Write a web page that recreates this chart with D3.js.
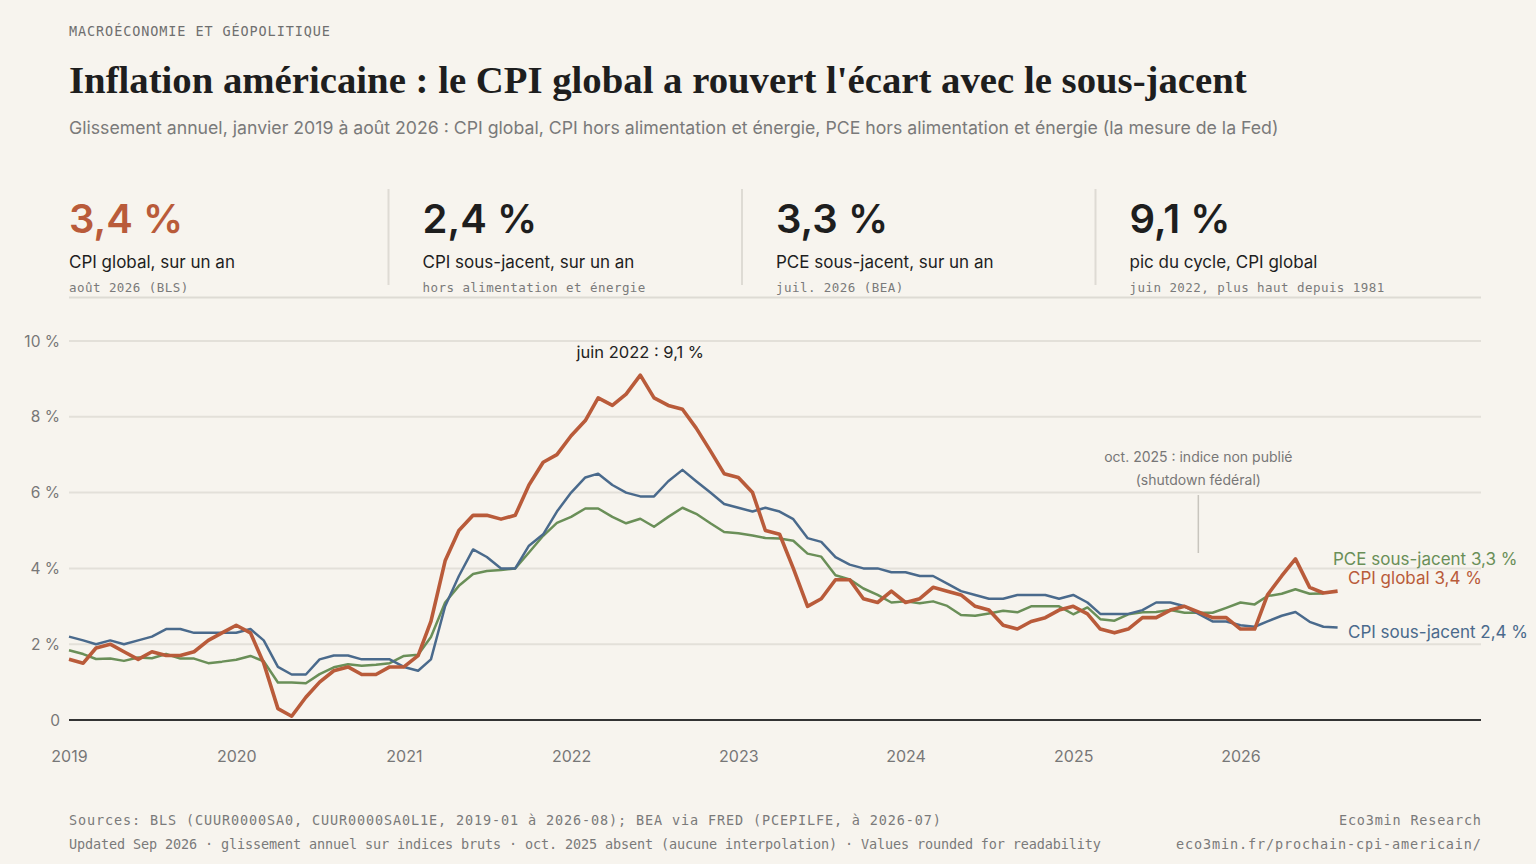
<!DOCTYPE html>
<html><head><meta charset="utf-8">
<script src="https://cdn.jsdelivr.net/npm/d3@7/dist/d3.min.js"></script>
<style>
html,body{margin:0;padding:0;background:#f7f4ee;}
svg{display:block;}
</style></head>
<body>
<svg id="c" width="1536" height="864"></svg>
<script>
const startYear = 2019;
const cpiHeadline = [
 1.6,1.5,1.9,2.0,1.8,1.6,1.8,1.7,1.7,1.8,2.1,2.3,
 2.5,2.3,1.5,0.3,0.1,0.6,1.0,1.3,1.4,1.2,1.2,1.4,
 1.4,1.7,2.6,4.2,5.0,5.4,5.4,5.3,5.4,6.2,6.8,7.0,
 7.5,7.9,8.5,8.3,8.6,9.1,8.5,8.3,8.2,7.7,7.1,6.5,
 6.4,6.0,5.0,4.9,4.0,3.0,3.2,3.7,3.7,3.2,3.1,3.4,
 3.1,3.2,3.5,3.4,3.3,3.0,2.9,2.5,2.4,2.6,2.7,2.9,
 3.0,2.8,2.4,2.3,2.4,2.7,2.7,2.9,3.0,null,2.7,2.7,
 2.4,2.4,3.3,3.8,4.25,3.5,3.35,3.4];
const cpiCore = [
 2.2,2.1,2.0,2.1,2.0,2.1,2.2,2.4,2.4,2.3,2.3,2.3,
 2.3,2.4,2.1,1.4,1.2,1.2,1.6,1.7,1.7,1.6,1.6,1.6,
 1.4,1.3,1.6,3.0,3.8,4.5,4.3,4.0,4.0,4.6,4.9,5.5,
 6.0,6.4,6.5,6.2,6.0,5.9,5.9,6.3,6.6,6.3,6.0,5.7,
 5.6,5.5,5.6,5.5,5.3,4.8,4.7,4.3,4.1,4.0,4.0,3.9,
 3.9,3.8,3.8,3.6,3.4,3.3,3.2,3.2,3.3,3.3,3.3,3.2,
 3.3,3.1,2.8,2.8,2.8,2.9,3.1,3.1,3.0,null,2.6,2.6,
 2.5,2.46,2.6,2.75,2.85,2.59,2.46,2.44];
const pceCore = [
 1.84,1.74,1.61,1.62,1.56,1.65,1.63,1.74,1.62,1.62,1.5,1.54,
 1.59,1.69,1.55,0.99,0.99,0.97,1.21,1.39,1.47,1.43,1.46,1.5,
 1.69,1.72,2.19,3.1,3.54,3.85,3.93,3.96,4.0,4.42,4.86,5.2,
 5.36,5.58,5.58,5.36,5.19,5.31,5.1,5.36,5.6,5.44,5.19,4.96,
 4.93,4.87,4.8,4.79,4.73,4.39,4.31,3.82,3.71,3.47,3.3,3.1,
 3.13,3.08,3.13,3.01,2.77,2.75,2.81,2.88,2.84,3.0,3.0,3.0,
 2.79,2.97,2.66,2.62,2.79,2.84,2.85,2.9,2.83,2.83,2.83,2.96,
 3.1,3.05,3.27,3.33,3.45,3.33,3.34];
const yTicks = [0,2,4,6,8,10];
const yTickLabels = ["0","2 %","4 %","6 %","8 %","10 %"];
const xYears = [2019,2020,2021,2022,2023,2024,2025,2026];
const kpiValues = ["3,4 %","2,4 %","3,3 %","9,1 %"];
const kpiLabels = ["CPI global, sur un an","CPI sous-jacent, sur un an","PCE sous-jacent, sur un an","pic du cycle, CPI global"];
const kpiNotes = ["août 2026 (BLS)","hors alimentation et énergie","juil. 2026 (BEA)","juin 2022, plus haut depuis 1981"];
const endLabels = ["PCE sous-jacent 3,3 %","CPI global 3,4 %","CPI sous-jacent 2,4 %"];

const C = {cpi:"#b95b3a", core:"#4a6a8c", pce:"#6a8f58"};
const sans = "Inter, 'Noto Sans', sans-serif";
const mono = "'DejaVu Sans Mono', 'Liberation Mono', monospace";
const svg = d3.select("#c");

svg.append("text").attr("x",69).attr("y",36).text("MACROÉCONOMIE ET GÉOPOLITIQUE")
  .attr("font-family",mono).attr("font-size",13.5).attr("fill","#6f6f6f").attr("letter-spacing",0.9);
const title = svg.append("text").attr("x",69).attr("y",93)
  .text("Inflation américaine : le CPI global a rouvert l'écart avec le sous-jacent")
  .attr("font-family","'Liberation Serif','DejaVu Serif',serif").attr("font-weight","bold").attr("font-size",36).attr("fill","#1e1e1e");
const tw = title.node().getComputedTextLength();
title.attr("font-size", 36*1178/tw);
svg.append("text").attr("x",69).attr("y",134)
  .text("Glissement annuel, janvier 2019 à août 2026 : CPI global, CPI hors alimentation et énergie, PCE hors alimentation et énergie (la mesure de la Fed)")
  .attr("font-family",sans).attr("font-size",17.7).attr("fill","#7a7a7a");

// KPI
const kx = d3.scaleLinear().domain([0,4]).range([69,69+4*353.5]);
kpiValues.forEach((v,i)=>{
  const x = kx(i);
  if(i>0) svg.append("line").attr("x1",x-34).attr("x2",x-34).attr("y1",189).attr("y2",285).attr("stroke","#dedbd4").attr("stroke-width",2);
  svg.append("text").attr("x",x).attr("y",233).text(v).attr("font-family",sans).attr("font-weight",600)
    .attr("font-size",40).attr("fill", i===0?C.cpi:"#1e1e1e");
  svg.append("text").attr("x",x).attr("y",268).text(kpiLabels[i]).attr("font-family",sans).attr("font-size",17).attr("fill","#1e1e1e");
  svg.append("text").attr("x",x).attr("y",292).text(kpiNotes[i]).attr("font-family",mono).attr("font-size",12.5).attr("letter-spacing",0.45).attr("fill","#7a7a7a");
});
svg.append("line").attr("x1",69).attr("x2",1481).attr("y1",297.5).attr("y2",297.5).attr("stroke","#dedbd4").attr("stroke-width",2);

// Chart
const date = i => new Date(startYear, i, 1);
const x = d3.scaleTime().domain([new Date(2019,0,1), new Date(2027,5,10)]).range([69,1481]);
const y = d3.scaleLinear().domain([0,10]).range([720,341]);

const grid = svg.append("g");
yTicks.forEach((t,i)=>{
  if(t>0) grid.append("line").attr("x1",69).attr("x2",1481).attr("y1",y(t)).attr("y2",y(t)).attr("stroke","#e3e0d9").attr("stroke-width",2);
  grid.append("text").attr("x",60).attr("y",y(t)+5.5).attr("text-anchor","end").text(yTickLabels[i])
    .attr("font-family",sans).attr("font-size",15.5).attr("fill","#777");
});
const xAxis = svg.append("g").attr("transform","translate(0,720)")
  .call(d3.axisBottom(x).tickValues(xYears.map(yr=>new Date(yr,0,1))).tickFormat(d3.timeFormat("%Y")).tickSize(0));
xAxis.select(".domain").remove();
xAxis.selectAll("text").attr("dy",0).attr("y",42).attr("font-family",sans).attr("font-size",16).attr("fill","#777");
svg.append("line").attr("x1",69).attr("x2",1481).attr("y1",720).attr("y2",720).attr("stroke","#333").attr("stroke-width",2);

const toPts = arr => arr.map((v,i)=>({d:date(i),v})).filter(p=>p.v!==null);
const line = d3.line().x(p=>x(p.d)).y(p=>y(p.v)).curve(d3.curveLinear);
svg.append("path").attr("d",line(toPts(pceCore))).attr("fill","none").attr("stroke",C.pce).attr("stroke-width",2.5).attr("stroke-linejoin","round");
svg.append("path").attr("d",line(toPts(cpiCore))).attr("fill","none").attr("stroke",C.core).attr("stroke-width",2.5).attr("stroke-linejoin","round");
svg.append("path").attr("d",line(toPts(cpiHeadline))).attr("fill","none").attr("stroke",C.cpi).attr("stroke-width",3.6).attr("stroke-linejoin","round");

// annotations
const peakI = cpiHeadline.indexOf(d3.max(cpiHeadline));
svg.append("text").attr("x",x(date(peakI))).attr("y",358).attr("text-anchor","middle").text("juin 2022 : 9,1 %")
  .attr("font-family",sans).attr("font-size",16.5).attr("fill","#222");
const oct = x(date(81));
svg.append("text").attr("x",oct).attr("y",462).attr("text-anchor","middle").text("oct. 2025 : indice non publié")
  .attr("font-family",sans).attr("font-size",14).attr("fill","#777");
svg.append("text").attr("x",oct).attr("y",485).attr("text-anchor","middle").text("(shutdown fédéral)")
  .attr("font-family",sans).attr("font-size",14).attr("fill","#777");
svg.append("line").attr("x1",oct).attr("x2",oct).attr("y1",495).attr("y2",553).attr("stroke","#c8c5be").attr("stroke-width",1.5);

// end labels
svg.append("text").attr("x",1333).attr("y",565).text(endLabels[0]).attr("font-family",sans).attr("font-size",17).attr("fill",C.pce);
svg.append("text").attr("x",1348).attr("y",584).text(endLabels[1]).attr("font-family",sans).attr("font-size",17).attr("fill",C.cpi);
svg.append("text").attr("x",1348).attr("y",638).text(endLabels[2]).attr("font-family",sans).attr("font-size",17).attr("fill",C.core);

// footer
const ft = (t,xx,yy,anchor,len)=>svg.append("text").attr("x",xx).attr("y",yy).attr("text-anchor",anchor).text(t)
  .attr("font-family",mono).attr("font-size",13.5).attr("textLength",len).attr("lengthAdjust","spacing").attr("fill","#7a7a7a");
ft("Sources: BLS (CUUR0000SA0, CUUR0000SA0L1E, 2019-01 à 2026-08); BEA via FRED (PCEPILFE, à 2026-07)",69,825,"start",872);
ft("Updated Sep 2026 · glissement annuel sur indices bruts · oct. 2025 absent (aucune interpolation) · Values rounded for readability",69,849,"start",1032);
ft("Eco3min Research",1481,825,"end",142);
ft("eco3min.fr/prochain-cpi-americain/",1481,849,"end",305);
</script>
</body></html>
